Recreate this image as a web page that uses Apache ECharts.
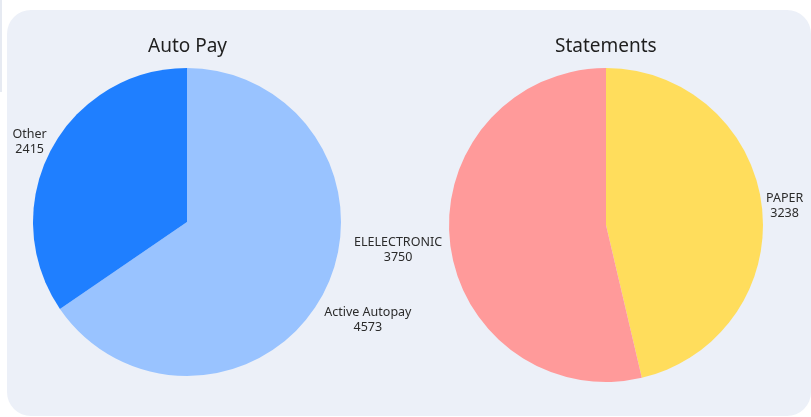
<!DOCTYPE html>
<html>
<head>
<meta charset="utf-8">
<script src="https://cdn.jsdelivr.net/npm/echarts@6/dist/echarts.min.js"></script>
<style>
  html, body { margin: 0; padding: 0; background: #fff; }
  #chart { width: 811px; height: 417px; }
</style>
</head>
<body>
<div id="chart"></div>
<script>
// data
var autoPayNames = ['Active Autopay', 'Other'];
var autoPayValues = [4573, 2415];
var statementNames = ['PAPER', 'ELELECTRONIC'];
var statementValues = [3238, 3750];

var autoPayColors = ['#99c3ff', '#1f7fff'];
var statementColors = ['#ffdd5c', '#ff9a9a'];

function toData(names, values) {
	var out = [];
	for (var i = 0; i < names.length; i++) {
		out.push({ name: names[i], value: values[i] });
	}
	return out;
}

// nudges from the default outside spot to where the original puts the labels
var labelNudge = {
	0: [[-4, 26], [1, -8]],
	1: [[-1, -1], [-3, 7]]
};

function pieSeries(idx, names, values, colors, center, radius) {
	return {
		type: 'pie',
		center: center,
		radius: radius,
		startAngle: 90,
		clockwise: true,
		data: toData(names, values),
		color: colors,
		itemStyle: { borderWidth: 0 },
		emphasis: { disabled: true },
		label: {
			show: true,
			position: 'outside',
			formatter: '{b}\n{c}',
			fontFamily: 'Noto Sans',
			fontSize: 12.5,
			lineHeight: 15,
			color: '#2b2b2b',
			overflow: 'none'
		},
		labelLine: { show: false, length: 0, length2: 0 },
		labelLayout: function (p) {
			var n = labelNudge[idx][p.dataIndex];
			var r = p.labelRect;
			return {
				x: r.x + r.width / 2 + n[0],
				y: r.y + r.height / 2 + n[1],
				align: 'center',
				verticalAlign: 'middle'
			};
		}
	};
}

var titleStyle = { fontFamily: 'Noto Sans', fontSize: 19, fontWeight: 'normal', color: '#1f1f1f' };

var chart = echarts.init(document.getElementById('chart'));
chart.setOption({
	backgroundColor: '#ffffff',
	animation: false,
	graphic: [
		{ type: 'rect', shape: { x: 7, y: 10, width: 804, height: 406, r: 24 }, style: { fill: '#ecf0f8' }, z: -10 },
		{ type: 'rect', shape: { x: 0, y: 0, width: 2, height: 92 }, style: { fill: '#e6eaf2' }, z: -10 }
	],
	title: [
		{ text: 'Auto Pay', left: 143, top: 32, textStyle: titleStyle },
		{ text: 'Statements', left: 550, top: 32, textStyle: titleStyle }
	],
	series: [
		pieSeries(0, autoPayNames, autoPayValues, autoPayColors, [187, 222], 154),
		pieSeries(1, statementNames, statementValues, statementColors, [606, 225], 157)
	]
});
</script>
</body>
</html>
